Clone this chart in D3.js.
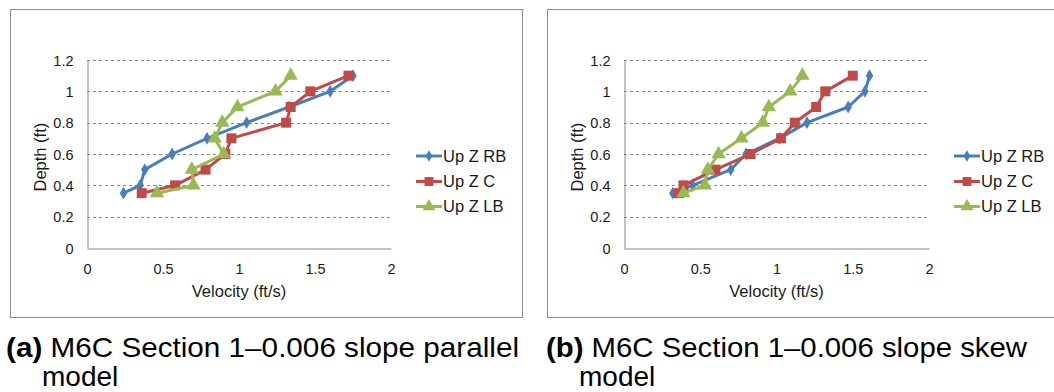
<!DOCTYPE html>
<html>
<head>
<meta charset="utf-8">
<script src="https://cdn.jsdelivr.net/npm/d3@7"></script>
<style>
  html, body { margin: 0; padding: 0; background: #fff; }
  svg { display: block; }
</style>
</head>
<body>
<svg id="fig" width="1054" height="392"></svg>
<script>
// Depth levels (ft) shared by every velocity profile
const depths = [0.35, 0.4, 0.5, 0.6, 0.7, 0.8, 0.9, 1.0, 1.1];

// (a) parallel model: velocity (ft/s) at each depth
const parallelRB = [0.24, 0.35, 0.38, 0.56, 0.79, 1.05, 1.33, 1.60, 1.75];
const parallelC  = [0.36, 0.58, 0.78, 0.91, 0.95, 1.31, 1.34, 1.47, 1.72];
const parallelLB = [0.46, 0.70, 0.69, 0.90, 0.84, 0.89, 0.99, 1.24, 1.34];

// (b) skew model: velocity (ft/s) at each depth
const skewRB = [0.32, 0.45, 0.70, 0.80, 1.02, 1.20, 1.47, 1.58, 1.61];
const skewC  = [0.36, 0.39, 0.60, 0.83, 1.03, 1.12, 1.26, 1.32, 1.50];
const skewLB = [0.39, 0.53, 0.55, 0.62, 0.77, 0.91, 0.95, 1.09, 1.17];

const seriesNames = ["Up Z RB", "Up Z C", "Up Z LB"];
const xTicks = [0, 0.5, 1, 1.5, 2];
const yTicks = [0, 0.2, 0.4, 0.6, 0.8, 1, 1.2];
const xTitle = "Velocity (ft/s)";
const yTitle = "Depth (ft)";
const captionTags = ["(a)", "(b)"];
const captionLine1 = ["M6C Section 1\u20130.006 slope parallel", "M6C Section 1\u20130.006 slope skew"];
const captionLine2 = ["model", "model"];

const colors = ["#4a7ebb", "#be4b48", "#98b954"];
const shapes = [d3.symbolDiamond, d3.symbolSquare, d3.symbolTriangle];
const shapeSizes = [48, 100, 90];

const svg = d3.select("#fig");
const font = "'Liberation Sans', Arial, sans-serif";

const panels = [
  { frame: [10.5, 9.5, 512, 308], x0: 87, x1: 391, series: [parallelRB, parallelC, parallelLB],
    legendX: 416, capX: 6, capW: 513, cap2X: 42 },
  { frame: [547.5, 9.5, 520, 308], x0: 624, x1: 929, series: [skewRB, skewC, skewLB],
    legendX: 954, capX: 546, capW: 481, cap2X: 579 }
];

panels.forEach((p, pi) => {
  const g = svg.append("g");
  const [fx, fy, fw, fh] = p.frame;
  g.append("rect").attr("x", fx).attr("y", fy).attr("width", fw).attr("height", fh)
    .attr("fill", "#fff").attr("stroke", "#8c8c8c").attr("stroke-width", 1);

  const x = d3.scaleLinear().domain([0, 2]).range([p.x0, p.x1]);
  const y = d3.scaleLinear().domain([0, 1.2]).range([248, 60]);

  // dashed horizontal gridlines
  g.append("g").selectAll("line").data(yTicks.filter(t => t > 0)).join("line")
    .attr("x1", x(0)).attr("x2", x(2))
    .attr("y1", d => Math.round(y(d)) + 0.5).attr("y2", d => Math.round(y(d)) + 0.5)
    .attr("stroke", "#8a8a8a").attr("stroke-width", 1).attr("stroke-dasharray", "3,3");

  // axes
  const xAxis = g.append("g").attr("transform", `translate(0,${Math.round(y(0)) + 0.5})`)
    .call(d3.axisBottom(x).tickValues(xTicks).tickSize(0).tickPadding(15).tickFormat(d3.format("")));
  const yAxis = g.append("g").attr("transform", `translate(${x(0) + 0.5},0)`)
    .call(d3.axisLeft(y).tickValues(yTicks).tickSize(0).tickPadding(14).tickFormat(d3.format("")));
  [xAxis, yAxis].forEach(a => {
    a.select(".domain").attr("stroke", "#868686").attr("stroke-width", 1);
    a.selectAll("text").attr("fill", "#1a1a1a").style("font-family", font).style("font-size", "14.5px");
  });
  yAxis.selectAll("text").attr("dy", "0.36em");

  // axis titles
  g.append("text").attr("x", (x(0) + x(2)) / 2).attr("y", 297)
    .attr("text-anchor", "middle").attr("fill", "#1a1a1a")
    .style("font-family", font).style("font-size", "16.5px").text(xTitle);
  g.append("text").attr("transform", `translate(${x(0) - 41},${y(0.58)}) rotate(-90)`)
    .attr("text-anchor", "middle").attr("fill", "#1a1a1a")
    .style("font-family", font).style("font-size", "16.5px").text(yTitle);

  // profiles
  const line = d3.line().x(d => x(d[0])).y(d => y(d[1]));
  p.series.forEach((vals, si) => {
    const pts = vals.map((v, i) => [v, depths[i]]);
    g.append("path").datum(pts).attr("d", line)
      .attr("fill", "none").attr("stroke", colors[si]).attr("stroke-width", 3)
      .attr("stroke-linejoin", "round");
    g.append("g").selectAll("path").data(pts).join("path")
      .attr("transform", d => `translate(${x(d[0])},${y(d[1])})`)
      .attr("d", d3.symbol().type(shapes[si]).size(shapeSizes[si]))
      .attr("fill", colors[si]);
  });

  // legend
  const legY = [156, 181.5, 206.5];
  seriesNames.forEach((name, si) => {
    const lg = g.append("g");
    lg.append("line").attr("x1", p.legendX).attr("x2", p.legendX + 26)
      .attr("y1", legY[si]).attr("y2", legY[si])
      .attr("stroke", colors[si]).attr("stroke-width", 3);
    lg.append("path").attr("transform", `translate(${p.legendX + 13},${legY[si]})`)
      .attr("d", d3.symbol().type(shapes[si]).size(shapeSizes[si] * 0.8))
      .attr("fill", colors[si]);
    lg.append("text").attr("x", p.legendX + 27).attr("y", legY[si]).attr("dy", "0.36em")
      .attr("fill", "#1a1a1a").style("font-family", font).style("font-size", "16.5px").text(name);
  });

  // caption
  const cap = svg.append("text").attr("x", p.capX).attr("y", 357)
    .attr("fill", "#000").style("font-family", font).style("font-size", "28px")
    .attr("textLength", p.capW).attr("lengthAdjust", "spacingAndGlyphs");
  cap.append("tspan").attr("font-weight", "bold").text(captionTags[pi]);
  cap.append("tspan").text(" " + captionLine1[pi]);
  svg.append("text").attr("x", p.cap2X).attr("y", 386)
    .attr("fill", "#000").style("font-family", font).style("font-size", "28px").text(captionLine2[pi]);
});
</script>
</body>
</html>
